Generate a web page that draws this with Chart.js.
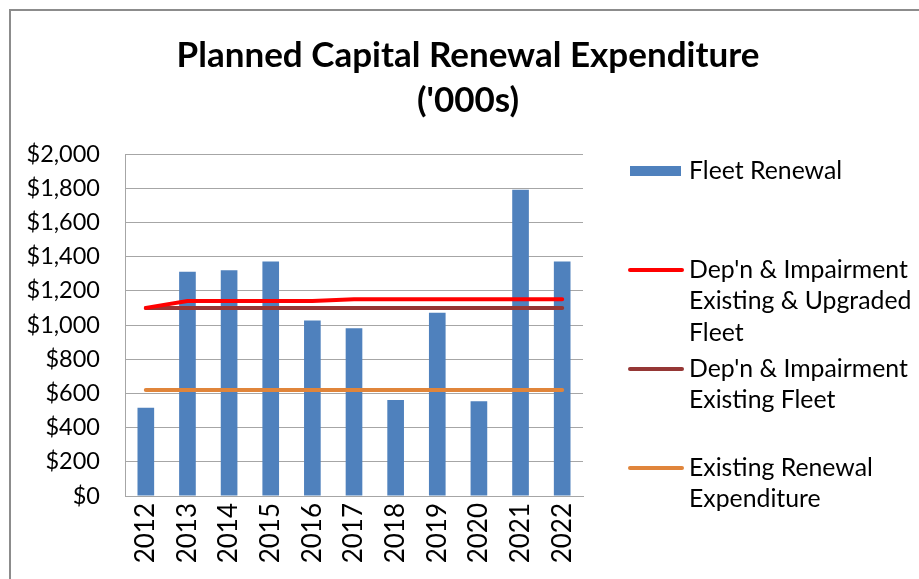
<!DOCTYPE html>
<html>
<head>
<meta charset="utf-8">
<script src="https://cdn.jsdelivr.net/npm/chart.js@4.4.1/dist/chart.umd.min.js"></script>
<style>
  html, body { margin: 0; padding: 0; background: #ffffff; }
  #wrap { position: relative; width: 919px; height: 579px; }
  #frame { position: absolute; left: 9px; top: 9px; width: 940px; height: 600px; border-left: 2px solid #8c8c8c; border-top: 2px solid #8c8c8c; box-sizing: border-box; }
  canvas { position: absolute; left: 0; top: 0; }
</style>
</head>
<body>
<div id="wrap">
  <div id="frame"></div>
  <canvas id="c" width="919" height="579"></canvas>
</div>
<script>
const titleLines = ["Planned Capital Renewal Expenditure", "('000s)"];
const years = ["2012","2013","2014","2015","2016","2017","2018","2019","2020","2021","2022"];
const fleetRenewal = [516, 1312, 1320, 1372, 1027, 981, 561, 1072, 554, 1791, 1372];
const depnExistingUpgraded = [1100, 1140, 1140, 1140, 1140, 1150, 1150, 1150, 1150, 1150, 1150];
const depnExisting = [1100, 1100, 1100, 1100, 1100, 1100, 1100, 1100, 1100, 1100, 1100];
const existingRenewal = [620, 620, 620, 620, 620, 620, 620, 620, 620, 620, 620];
const legendLabels = [
  ["Fleet Renewal"],
  ["Dep'n & Impairment", "Existing & Upgraded", "Fleet"],
  ["Dep'n & Impairment", "Existing Fleet"],
  ["Existing Renewal", "Expenditure"]
];
const yTickValues = [0, 200, 400, 600, 800, 1000, 1200, 1400, 1600, 1800, 2000];

const FONT = "Lato, 'Open Sans', sans-serif";

const titlePlugin = {
  id: 'customTitle',
  afterDraw(chart) {
    const ctx = chart.ctx;
    ctx.save();
    ctx.fillStyle = '#000';
    ctx.font = "bold 35px " + FONT;
    ctx.textAlign = 'center';
    ctx.textBaseline = 'middle';
    ctx.fillText(titleLines[0], 468, 56);
    ctx.fillText(titleLines[1], 468, 101);
    ctx.restore();
  }
};

const legendPlugin = {
  id: 'customLegend',
  afterDraw(chart) {
    const ctx = chart.ctx;
    const ys = [171, 270, 369, 468];
    const lh = 31.5;
    ctx.save();
    ctx.font = "24.8px " + FONT;
    ctx.fillStyle = '#000';
    ctx.textAlign = 'left';
    ctx.textBaseline = 'middle';
    chart.data.datasets.forEach((ds, i) => {
      const y = ys[i];
      if (ds.type === 'bar' || !ds.type) {
        ctx.fillStyle = ds.backgroundColor;
        ctx.fillRect(630, y - 5, 51, 10);
      } else {
        ctx.strokeStyle = ds.borderColor;
        ctx.lineWidth = 4;
        ctx.lineCap = 'round';
        ctx.beginPath();
        ctx.moveTo(630, y);
        ctx.lineTo(682, y);
        ctx.stroke();
      }
      ctx.fillStyle = '#000';
      legendLabels[i].forEach((t, k) => ctx.fillText(t, 689, y + k * lh));
    });
    ctx.restore();
  }
};

new Chart(document.getElementById('c'), {
  type: 'bar',
  data: {
    labels: years,
    datasets: [
      { type: 'bar', label: 'Fleet Renewal', data: fleetRenewal, backgroundColor: '#4F81BD', borderWidth: 0, categoryPercentage: 1.0, barPercentage: 0.4, order: 4 },
      { type: 'line', label: "Dep'n & Impairment Existing & Upgraded Fleet", data: depnExistingUpgraded, borderColor: '#FF0000', borderWidth: 4, pointRadius: 0, borderCapStyle: 'round', tension: 0, order: 1 },
      { type: 'line', label: "Dep'n & Impairment Existing Fleet", data: depnExisting, borderColor: '#953735', borderWidth: 4, pointRadius: 0, borderCapStyle: 'round', tension: 0, order: 2 },
      { type: 'line', label: 'Existing Renewal Expenditure', data: existingRenewal, borderColor: '#E0853B', borderWidth: 4, pointRadius: 0, borderCapStyle: 'round', tension: 0, order: 3 }
    ]
  },
  options: {
    responsive: false,
    animation: false,
    devicePixelRatio: 1,
    layout: { padding: { left: 0, right: 336, top: 154, bottom: 0 } },
    plugins: {
      legend: { display: false },
      title: { display: false },
      tooltip: { enabled: false }
    },
    scales: {
      x: {
        offset: true,
        grid: { display: false, drawTicks: false },
        border: { display: true, color: '#a6a6a6', width: 1 },
        ticks: { color: '#000', font: { family: FONT, size: 26 }, minRotation: 90, maxRotation: 90, padding: 7, autoSkip: false },
        afterFit(scale) { scale.height = 83; }
      },
      y: {
        min: 0, max: 2000,
        afterBuildTicks(scale) { scale.ticks = yTickValues.map(v => ({ value: v })); },
        grid: { color: '#a6a6a6', lineWidth: 1, drawTicks: false },
        border: { display: true, color: '#a6a6a6', width: 1 },
        ticks: {
          color: '#000', font: { family: FONT, size: 23.5 }, padding: 25,
          callback: v => '$' + v.toLocaleString('en-US')
        },
        afterFit(scale) { scale.width = 125; }
      }
    }
  },
  plugins: [titlePlugin, legendPlugin]
});
</script>
</body>
</html>
